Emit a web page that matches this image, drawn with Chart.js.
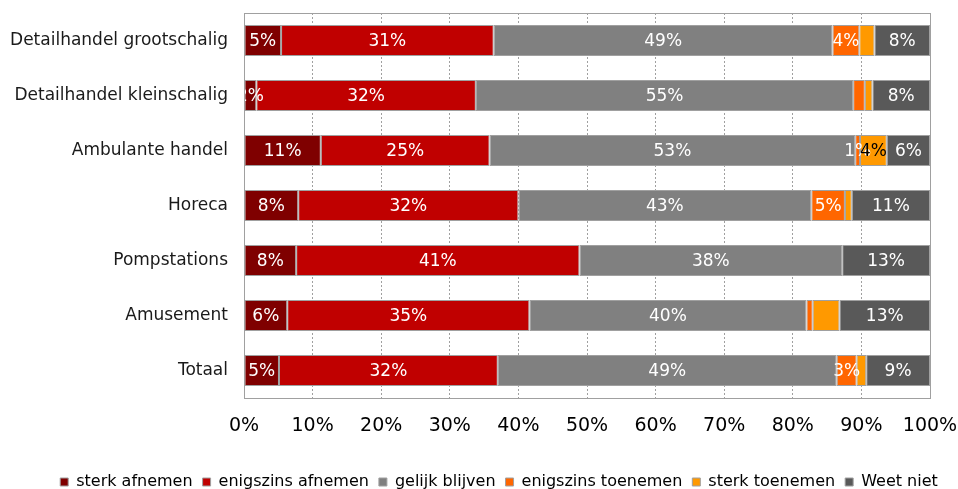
<!DOCTYPE html>
<html>
<head>
<meta charset="utf-8">
<script src="https://cdn.jsdelivr.net/npm/chart.js@4"></script>
<style>
  html, body { margin: 0; padding: 0; background: #fff; overflow: hidden; }
  #wrap { width: 958px; height: 500px; }
</style>
</head>
<body>
<div id="wrap"><canvas id="myChart"></canvas></div>
<script>
const categories = [
  "Detailhandel grootschalig",
  "Detailhandel kleinschalig",
  "Ambulante handel",
  "Horeca",
  "Pompstations",
  "Amusement",
  "Totaal",
];

// percentages per answer, one value per category
const sterkAfnemen = [5.4, 1.8, 11.2, 7.9, 7.6, 6.3, 5.1];
const enigszinsAfnemen = [31.0, 32.0, 24.6, 32.1, 41.3, 35.3, 31.9];
const gelijkBlijven = [49.4, 55.0, 53.3, 42.7, 38.3, 40.4, 49.4];
const enigszinsToenemen = [3.9, 1.7, 0.7, 4.9, 0, 0.9, 2.9];
const sterkToenemen = [2.2, 1.1, 3.9, 1.0, 0, 3.9, 1.4];
const weetNiet = [8.1, 8.4, 6.3, 11.4, 12.8, 13.2, 9.3];

const xTicks = [0, 10, 20, 30, 40, 50, 60, 70, 80, 90, 100];

// segments whose label is not shown in the original: [series, category]
const hiddenLabels = [
  [3, 1], [4, 0], [4, 1], [4, 3], [3, 5], [4, 5], [4, 6],
];

const colors = {
  sterkAf: "#7f0000",
  enigszinsAf: "#c00000",
  gelijk: "#808080",
  enigszinsToe: "#ff6600",
  sterkToe: "#ff9900",
  weetNiet: "#595959",
};

const series = [
  { label: "sterk afnemen", data: sterkAfnemen, color: colors.sterkAf, text: "#ffffff" },
  { label: "enigszins afnemen", data: enigszinsAfnemen, color: colors.enigszinsAf, text: "#ffffff" },
  { label: "gelijk blijven", data: gelijkBlijven, color: colors.gelijk, text: "#ffffff" },
  { label: "enigszins toenemen", data: enigszinsToenemen, color: colors.enigszinsToe, text: "#ffffff" },
  { label: "sterk toenemen", data: sterkToenemen, color: colors.sterkToe, text: "#000000" },
  { label: "Weet niet", data: weetNiet, color: colors.weetNiet, text: "#ffffff" },
];

const FONT = "'DejaVu Sans', Verdana, sans-serif";

const barLabels = {
  id: "barLabels",
  afterDatasetsDraw(chart) {
    const ctx = chart.ctx;
    ctx.save();
    ctx.font = "17px " + FONT;
    ctx.textAlign = "center";
    ctx.textBaseline = "middle";
    chart.data.datasets.forEach((ds, si) => {
      const meta = chart.getDatasetMeta(si);
      meta.data.forEach((bar, ci) => {
        const v = ds.data[ci];
        if (!v) return;
        if (hiddenLabels.some((h) => h[0] === si && h[1] === ci)) return;
        ctx.fillStyle = ds.textColor;
        ctx.fillText(Math.round(v) + "%", (bar.x + bar.base) / 2, bar.y + 1);
      });
    });
    ctx.restore();
  },
};

const plotBorder = {
  id: "plotBorder",
  afterLayout(chart) {
    // legend in the original sits a bit right of centre
    if (chart.legend) {
      chart.legend.left = 40;
      chart.legend.right = 958;
    }
  },
  afterDraw(chart) {
    const a = chart.chartArea;
    const ctx = chart.ctx;
    ctx.save();
    ctx.strokeStyle = "#a0a0a0";
    ctx.lineWidth = 1;
    ctx.strokeRect(Math.round(a.left) + 0.5, Math.round(a.top) + 0.5,
      Math.round(a.right - a.left), Math.round(a.bottom - a.top));
    ctx.restore();
  },
};

const ctx = document.getElementById("myChart").getContext("2d");
const myChart = new Chart(ctx, {
  type: "bar",
  data: {
    labels: categories,
    datasets: series.map((s) => ({
      label: s.label,
      data: s.data,
      backgroundColor: s.color,
      borderColor: "#a0a0a0",
      borderWidth: 1,
      borderSkipped: false,
      textColor: s.text,
      categoryPercentage: 1,
      barPercentage: 0.56,
    })),
  },
  options: {
    indexAxis: "y",
    responsive: true,
    maintainAspectRatio: false,
    animation: false,
    layout: { padding: { top: 13, right: 28, left: 0, bottom: 0 } },
    scales: {
      x: {
        stacked: true,
        min: 0,
        max: 100,
        afterBuildTicks(scale) {
          scale.ticks = xTicks.map((v) => ({ value: v }));
        },
        ticks: {
          color: "#000",
          font: { family: FONT, size: 19 },
          padding: 17,
          callback: (v) => v + "%",
        },
        grid: {
          color: "#a0a0a0",
          drawTicks: false,
        },
        border: { display: false, dash: [2, 2] },
        afterFit(scale) {
          scale.height = 66;
          scale.paddingLeft = 0;
          scale.paddingRight = 0;
        },
      },
      y: {
        stacked: true,
        ticks: {
          color: "#1a1a1a",
          font: { family: FONT, size: 17 },
          padding: 16,
        },
        grid: { display: false, drawTicks: false },
        border: { display: false },
        afterFit(scale) {
          scale.width = 244;
          scale.paddingTop = 0;
          scale.paddingBottom = 0;
        },
      },
    },
    plugins: {
      legend: {
        position: "bottom",
        labels: {
          color: "#000",
          font: { family: FONT, size: 16 },
          boxWidth: 8,
          boxHeight: 8,
          padding: 10,
        },
      },
      tooltip: { enabled: false },
    },
  },
  plugins: [barLabels, plotBorder],
});
</script>
</body>
</html>
